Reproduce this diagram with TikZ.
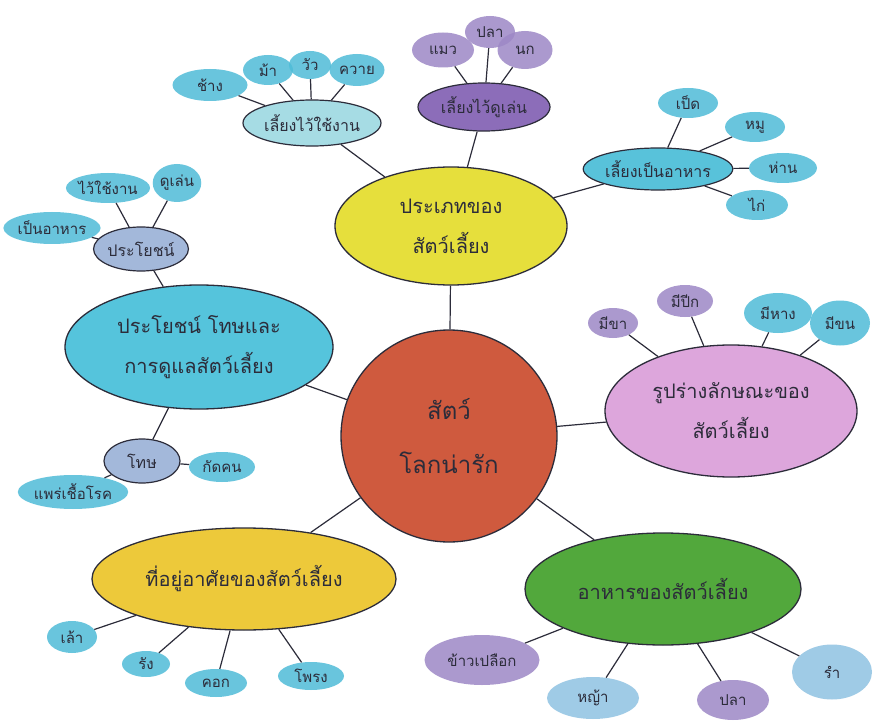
\documentclass[tikz,border=0pt]{standalone}
\usepackage{fontspec}
\newfontfamily\thaifont[Script=Thai]{Loma}
\usetikzlibrary{shapes.geometric}
\definecolor{cred}{HTML}{CF5A3E}
\definecolor{cyel}{HTML}{E6DF3C}
\definecolor{cora}{HTML}{EDC93A}
\definecolor{clcy}{HTML}{A6DCE4}
\definecolor{cpur}{HTML}{8C6DB9}
\definecolor{ccya}{HTML}{58C2DA}
\definecolor{cbig}{HTML}{55C4DC}
\definecolor{cgra}{HTML}{A3B8DA}
\definecolor{cpnk}{HTML}{DDA6DC}
\definecolor{cgrn}{HTML}{52A83C}
\definecolor{lcy}{HTML}{4FBCD8}
\definecolor{lpu}{HTML}{9D88C6}
\definecolor{llb}{HTML}{8FC2E2}
\definecolor{ink}{HTML}{2C2C3A}
\tikzset{
  every node/.style={font=\thaifont, text=ink},
  main/.style={ellipse, draw=ink, line width=1.3pt, inner sep=0pt, font=\thaifont\fontsize{20}{40}\selectfont, align=center},
  sub/.style={ellipse, draw=ink, line width=1.2pt, inner sep=0pt, font=\thaifont\fontsize{16}{20}\selectfont},
  leaf/.style={ellipse, inner sep=0pt, font=\thaifont\fontsize{15}{18}\selectfont, fill opacity=0.85, text opacity=1},
  conn/.style={draw=ink, line width=1.2pt}
}
\begin{document}
\begin{tikzpicture}[x=1pt,y=-1pt]
\useasboundingbox[fill=white] (0,0) rectangle (873,722);
% main nodes
\node[main, fill=cred, minimum width=216pt, minimum height=212pt, font=\thaifont\fontsize{24}{54}\selectfont] (c) at (449,436) {สัตว์\\โลกน่ารัก};
\node[main, fill=cyel, minimum width=232pt, minimum height=118pt] (t) at (451,226) {ประเภทของ\\สัตว์เลี้ยง};
\node[main, fill=cbig, minimum width=268pt, minimum height=124pt] (b) at (199,347) {ประโยชน์ โทษและ\\การดูแลสัตว์เลี้ยง};
\node[main, fill=cpnk, minimum width=252pt, minimum height=132pt] (p) at (731,411) {รูปร่างลักษณะของ\\สัตว์เลี้ยง};
\node[main, fill=cora, minimum width=304pt, minimum height=102pt] (h) at (244,579) {ที่อยู่อาศัยของสัตว์เลี้ยง};
\node[main, fill=cgrn, minimum width=276pt, minimum height=112pt] (f) at (663,589) {อาหารของสัตว์เลี้ยง};
% sub nodes
\node[sub, fill=clcy, minimum width=138pt, minimum height=46pt] (w) at (312,123) {เลี้ยงไว้ใช้งาน};
\node[sub, fill=cpur, minimum width=132pt, minimum height=48pt] (pl) at (484,107) {เลี้ยงไว้ดูเล่น};
\node[sub, fill=ccya, minimum width=134pt, minimum height=42pt] (fo) at (658,169) {เลี้ยงเป็นอาหาร};
\node[sub, fill=cgra, minimum width=82pt, minimum height=44pt] (be) at (141,249) {ประโยชน์};
\node[sub, fill=cgra, minimum width=76pt, minimum height=44pt] (ha) at (142,461) {โทษ};
% leaves
\node[leaf, fill=lcy, minimum width=75pt, minimum height=32pt] (w1) at (210,85) {ช้าง};
\node[leaf, fill=lcy, minimum width=50pt, minimum height=30pt] (w2) at (268,70) {ม้า};
\node[leaf, fill=lcy, minimum width=42pt, minimum height=28pt] (w3) at (310,65) {วัว};
\node[leaf, fill=lcy, minimum width=55pt, minimum height=32pt] (w4) at (357,70) {ควาย};
\node[leaf, fill=lpu, minimum width=62pt, minimum height=35pt] (pl1) at (443,50) {แมว};
\node[leaf, fill=lpu, minimum width=50pt, minimum height=32pt] (pl2) at (490,32) {ปลา};
\node[leaf, fill=lpu, minimum width=55pt, minimum height=38pt] (pl3) at (525,50) {นก};
\node[leaf, fill=lcy, minimum width=60pt, minimum height=30pt] (fo1) at (688,103) {เป็ด};
\node[leaf, fill=lcy, minimum width=60pt, minimum height=30pt] (fo2) at (755,127) {หมู};
\node[leaf, fill=lcy, minimum width=68pt, minimum height=30pt] (fo3) at (783,168) {ห่าน};
\node[leaf, fill=lcy, minimum width=62pt, minimum height=30pt] (fo4) at (757,205) {ไก่};
\node[leaf, fill=lcy, minimum width=90pt, minimum height=32pt] (be1) at (52,228) {เป็นอาหาร};
\node[leaf, fill=lcy, minimum width=75pt, minimum height=30pt] (be2) at (108,188) {ไว้ใช้งาน};
\node[leaf, fill=lcy, minimum width=48pt, minimum height=38pt] (be3) at (177,183) {ดูเล่น};
\node[leaf, fill=lcy, minimum width=66pt, minimum height=30pt] (ha1) at (222,467) {กัดคน};
\node[leaf, fill=lcy, minimum width=85pt, minimum height=34pt] (ha2) at (73,492) {แพร่เชื้อโรค};
\node[leaf, fill=lpu, minimum width=50pt, minimum height=30pt] (p1) at (613,323) {มีขา};
\node[leaf, fill=lpu, minimum width=56pt, minimum height=32pt] (p2) at (685,301) {มีปีก};
\node[leaf, fill=lcy, minimum width=68pt, minimum height=40pt] (p3) at (778,313) {มีหาง};
\node[leaf, fill=lcy, minimum width=60pt, minimum height=45pt] (p4) at (840,323) {มีขน};
\node[leaf, fill=lcy, minimum width=50pt, minimum height=32pt] (h1) at (72,637) {เล้า};
\node[leaf, fill=lcy, minimum width=48pt, minimum height=26pt] (h2) at (146,664) {รัง};
\node[leaf, fill=lcy, minimum width=62pt, minimum height=28pt] (h3) at (216,683) {คอก};
\node[leaf, fill=lcy, minimum width=66pt, minimum height=28pt] (h4) at (311,676) {โพรง};
\node[leaf, fill=lpu, minimum width=115pt, minimum height=50pt] (f1) at (482,660) {ข้าวเปลือก};
\node[leaf, fill=llb, minimum width=92pt, minimum height=42pt] (f2) at (593,698) {หญ้า};
\node[leaf, fill=lpu, minimum width=72pt, minimum height=40pt] (f3) at (733,700) {ปลา};
\node[leaf, fill=llb, minimum width=80pt, minimum height=55pt] (f4) at (832,672) {รำ};
% connectors
\draw[conn] (c) -- (t);
\draw[conn] (c) -- (b);
\draw[conn] (c) -- (p);
\draw[conn] (c) -- (h);
\draw[conn] (c) -- (f);
\draw[conn] (t) -- (w);
\draw[conn] (t) -- (pl);
\draw[conn] (t) -- (fo);
\draw[conn] (b) -- (be);
\draw[conn] (b) -- (ha);
\foreach \a in {w1,w2,w3,w4} \draw[conn] (w) -- (\a);
\foreach \a in {pl1,pl2,pl3} \draw[conn] (pl) -- (\a);
\foreach \a in {fo1,fo2,fo3,fo4} \draw[conn] (fo) -- (\a);
\foreach \a in {be1,be2,be3} \draw[conn] (be) -- (\a);
\foreach \a in {ha1,ha2} \draw[conn] (ha) -- (\a);
\foreach \a in {p1,p2,p3,p4} \draw[conn] (p) -- (\a);
\foreach \a in {h1,h2,h3,h4} \draw[conn] (h) -- (\a);
\foreach \a in {f1,f2,f3,f4} \draw[conn] (f) -- (\a);
\end{tikzpicture}
\end{document}
